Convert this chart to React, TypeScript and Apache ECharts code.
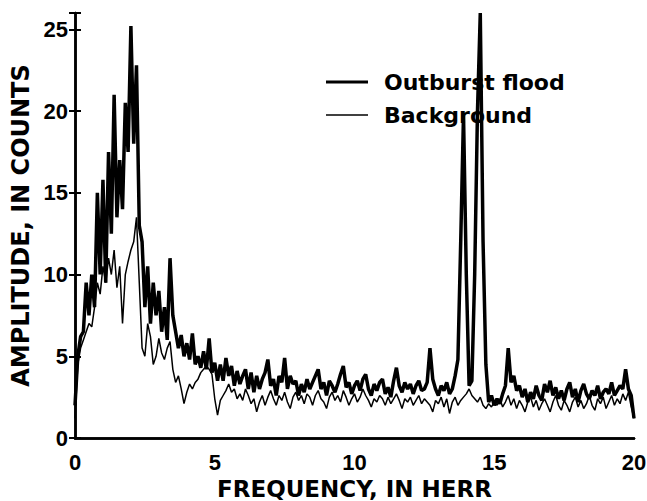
import React, { useEffect, useRef } from "react";
import * as echarts from "echarts";

// Frequency grid: 0.0 .. 20.0 Hz, step 0.1 (201 samples)
const FREQ_STEP = 0.1;

const outburstFlood = [
  2.0, 5.0, 6.2, 6.5, 9.5, 7.5, 10.0, 8.0, 15.0, 10.0,
  15.8, 9.5, 17.5, 12.5, 21.0, 13.5, 17.0, 14.0, 20.5, 17.5,
  25.2, 18.0, 22.8, 13.0, 12.0, 8.0, 10.5, 7.0, 9.5, 7.5,
  9.0, 6.5, 8.0, 6.0, 11.0, 7.5, 6.5, 5.5, 6.3, 5.0,
  5.8, 4.8, 6.4, 4.5, 5.0, 4.3, 5.3, 4.2, 6.1, 4.0,
  4.6, 3.5, 4.5, 3.5, 4.9, 3.8, 4.4, 3.2, 4.1, 3.3,
  3.8, 4.2, 3.0, 4.0, 2.8, 3.8, 3.0, 3.6, 4.0, 4.8,
  3.2, 3.6, 2.6, 3.8, 3.4, 4.9, 3.0, 3.8, 3.3, 3.5,
  2.6, 3.3, 2.8, 3.6, 3.0, 3.4, 3.8, 4.2, 3.0, 3.4,
  2.6, 3.5, 3.2, 2.8, 3.3, 3.9, 4.4, 3.1, 3.4, 2.7,
  3.2, 3.5, 2.9, 3.6, 3.9, 3.0, 2.6, 3.3, 2.9, 3.4,
  3.6, 2.7, 3.1, 2.5, 3.5, 4.3, 3.2, 2.8, 3.4, 3.0,
  3.3, 2.7, 3.2, 3.5, 2.9, 3.0, 3.4, 5.5, 3.6, 3.0,
  2.6, 3.2, 2.9, 3.4, 2.7, 3.0, 3.8, 4.8, 12.0, 19.8,
  10.0, 3.2, 3.5, 10.0, 20.0, 26.0, 12.0, 4.5, 2.2, 2.6,
  2.0, 2.4, 2.1, 2.7, 3.2, 5.5, 3.4, 3.8, 2.9, 3.2,
  2.5, 3.0, 2.2, 2.8, 2.4, 3.2, 2.6, 2.3, 3.3, 2.8,
  3.5, 2.6, 3.1, 2.4, 2.9, 2.3, 3.0, 3.4, 2.5, 3.0,
  2.2, 2.9, 3.3, 2.7, 2.4, 2.9, 2.6, 3.2, 2.4, 2.8,
  3.0, 2.7, 3.4, 2.6, 2.9, 3.2, 3.0, 4.2, 3.0, 2.6,
  1.2,
];

const background = [
  1.2, 4.5, 5.5, 6.0, 6.5, 7.0, 6.8, 8.0, 9.5, 8.8,
  10.5, 9.5, 11.0, 10.0, 11.5, 9.2, 10.5, 7.0, 10.0, 10.8,
  11.5, 12.0, 13.5, 9.5, 5.5, 5.0, 7.0, 6.2, 4.5, 5.0,
  6.1, 5.2, 4.8, 5.5, 5.9, 4.2, 3.4, 3.8, 3.0, 2.1,
  2.8, 3.3, 3.0, 3.4, 3.6, 4.0, 4.2, 4.4, 4.2, 3.9,
  2.4, 1.4, 2.3, 2.6, 2.9, 3.3, 2.8, 3.0, 2.4, 2.7,
  2.3, 3.0, 2.6, 2.1, 2.4, 1.6, 2.2, 2.6, 2.0, 2.5,
  2.9, 2.4, 2.0, 2.6, 2.3, 2.8, 2.2, 1.8, 2.5, 2.8,
  2.3, 2.6, 2.1, 2.7, 2.5, 2.0, 2.6, 2.9, 2.4, 2.2,
  1.8, 2.5, 2.8, 2.3, 2.6, 2.2, 2.9, 2.5, 2.0, 2.4,
  2.7, 2.2, 2.5, 3.0, 2.6, 2.3, 1.9, 2.4, 2.2, 2.6,
  2.4, 2.0, 2.5, 2.1, 2.4, 2.7, 2.3, 1.8, 2.4, 2.2,
  2.5, 2.0, 2.3, 2.6, 2.1, 2.4, 2.2, 2.0, 1.6, 2.3,
  2.1, 2.5, 1.9, 2.4, 1.5, 2.2, 2.5, 2.0, 2.3, 2.5,
  2.7, 3.0, 2.6, 2.4, 2.2, 2.5, 2.0, 1.8, 2.1, 1.9,
  2.2, 2.0, 2.4, 1.9, 2.2, 2.6, 2.0, 2.4, 1.8, 2.3,
  2.0, 1.6, 2.2, 2.5, 1.9, 2.3, 1.7, 2.1, 2.4, 2.0,
  1.6, 2.2, 2.6, 2.0, 1.7, 2.3, 2.0, 1.6, 2.2, 2.5,
  1.9, 2.3, 1.8, 2.1, 2.6, 2.0, 1.7, 2.4, 2.1, 2.5,
  1.8, 2.2, 2.6, 2.0, 2.4, 2.1, 2.7, 2.3, 2.8, 1.9,
  1.2,
];

const xTicks = [0, 5, 10, 15, 20];
const yTicks = [0, 5, 10, 15, 20, 25];
const X_MAX = 20;
const Y_MAX = 26;

const seriesNames = ["Outburst flood", "Background"];
const xTitle = "FREQUENCY, IN HERR";
const yTitle = "AMPLITUDE, IN COUNTS";

const TITLE_FONT = "'DejaVu Sans', sans-serif";
const TICK_FONT = "'Liberation Sans', Arial, sans-serif";

function toPairs(vals: number[]) {
  return vals.map((v, i) => [Math.round(i * FREQ_STEP * 10) / 10, v]);
}

export default function App() {
  const ref = useRef<HTMLDivElement>(null);

  useEffect(() => {
    if (!ref.current) return;
    const chart = echarts.init(ref.current, undefined, { renderer: "svg" });
    const grid = { left: 75, top: 13, width: 559, height: 425, containLabel: false, outerBoundsMode: "none" };
    const axisLine = { show: true, lineStyle: { color: "#000", width: 2.5 } };
    chart.setOption({
      animation: false,
      backgroundColor: "#fff",
      grid,
      xAxis: [
        {
          type: "value",
          min: 0,
          max: X_MAX,
          interval: 5,
          position: "bottom",
          axisLine,
          axisTick: { show: false },
          splitLine: { show: false },
          axisLabel: {
            color: "#000",
            fontFamily: TICK_FONT,
            fontWeight: "bold",
            fontSize: 22,
            margin: 13,
            formatter: (v: number) => (xTicks.includes(v) ? String(v) : ""),
          },
          name: xTitle,
          nameLocation: "middle",
          nameGap: 34,
          nameTextStyle: {
            color: "#000",
            fontFamily: TITLE_FONT,
            fontWeight: "bold",
            fontSize: 23,
          },
        },
        {
          type: "value",
          min: 0,
          max: X_MAX,
          position: "top",
          axisLine,
          axisTick: { show: false },
          axisLabel: { show: false },
          splitLine: { show: false },
        },
      ],
      yAxis: [
        {
          type: "value",
          min: 0,
          max: Y_MAX,
          interval: 5,
          position: "left",
          axisLine,
          axisTick: { show: true, inside: true, length: 6, lineStyle: { color: "#000", width: 2 } },
          splitLine: { show: false },
          axisLabel: {
            color: "#000",
            fontFamily: TICK_FONT,
            fontWeight: "bold",
            fontSize: 22,
            margin: 7,
            formatter: (v: number) => (yTicks.includes(v) ? String(v) : ""),
          },
          name: yTitle,
          nameLocation: "middle",
          nameGap: 34,
          nameTextStyle: {
            color: "#000",
            fontFamily: TITLE_FONT,
            fontWeight: "bold",
            fontSize: 24,
          },
        },
        {
          type: "value",
          min: 0,
          max: Y_MAX,
          interval: 5,
          position: "right",
          axisLine,
          axisTick: { show: true, inside: true, length: 6, lineStyle: { color: "#000", width: 2 } },
          axisLabel: { show: false },
          splitLine: { show: false },
        },
      ],
      series: [
        {
          name: seriesNames[1],
          type: "line",
          data: toPairs(background),
          showSymbol: false,
          symbol: "none",
          lineStyle: { color: "#000", width: 1.5 },
          clip: true,
        },
        {
          name: seriesNames[0],
          type: "line",
          data: toPairs(outburstFlood),
          showSymbol: false,
          symbol: "none",
          lineStyle: { color: "#000", width: 3.5 },
          clip: true,
        },
      ],
      graphic: [
        { type: "line", shape: { x1: 326, y1: 82, x2: 368, y2: 82 }, style: { stroke: "#000", lineWidth: 3 } },
        {
          type: "text",
          x: 384,
          y: 82,
          style: {
            text: seriesNames[0],
            fill: "#000",
            font: `bold 22px ${TITLE_FONT}`,
            verticalAlign: "middle",
          },
        },
        { type: "line", shape: { x1: 326, y1: 115, x2: 368, y2: 115 }, style: { stroke: "#000", lineWidth: 1.5 } },
        {
          type: "text",
          x: 384,
          y: 115,
          style: {
            text: seriesNames[1],
            fill: "#000",
            font: `bold 22px ${TITLE_FONT}`,
            verticalAlign: "middle",
          },
        },
      ],
    });
    return () => chart.dispose();
  }, []);

  return (
    <div
      ref={ref}
      style={{ position: "fixed", left: 0, top: 0, width: 647, height: 501, background: "#fff" }}
    />
  );
}
